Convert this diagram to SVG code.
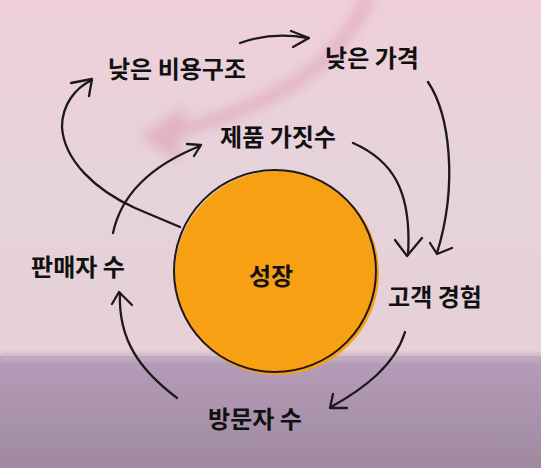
<svg xmlns="http://www.w3.org/2000/svg" width="541" height="468" viewBox="0 0 541 468">
<style>
.lbl{font-family:"Noto Sans CJK KR","Noto Sans",sans-serif;font-weight:700;font-size:24px;fill:#111;text-anchor:middle}
.ln{fill:none;stroke:#1c181c;stroke-width:2.3;stroke-linecap:round;stroke-linejoin:round}
</style>
<defs>
<linearGradient id="bgTop" x1="0" y1="0" x2="0" y2="1">
<stop offset="0" stop-color="#efcfd9"/>
<stop offset="0.5" stop-color="#e6d3dc"/>
<stop offset="1" stop-color="#e7d0d6"/>
</linearGradient>
<linearGradient id="bgBot" x1="0" y1="0" x2="0" y2="1">
<stop offset="0" stop-color="#b69dba"/>
<stop offset="1" stop-color="#9f89a0"/>
</linearGradient>
<filter id="blur" x="-20%" y="-20%" width="140%" height="140%"><feGaussianBlur stdDeviation="6"/></filter>
<filter id="blur2" x="-20%" y="-20%" width="140%" height="140%"><feGaussianBlur stdDeviation="1.5"/></filter>
</defs>
<g id="background">
<rect x="0" y="0" width="541" height="360" fill="url(#bgTop)"/>
<rect x="0" y="356" width="541" height="112" fill="url(#bgBot)"/>
<rect x="0" y="352" width="541" height="10" fill="#c9b2c4" filter="url(#blur2)" opacity="0.6"/>
<g filter="url(#blur)" opacity="0.45">
<path d="M370,-5 C340,60 290,100 180,130" fill="none" stroke="#d98ea4" stroke-width="12"/>
<path d="M140,137 L185,105 L178,162 Z" fill="#d98ea4"/>
</g>
</g>
<g id="connectors">
<path class="ln" d="M240,43 C262,35 285,34 308,38"/>
<path class="ln" d="M291,31 L309,38 L293,47"/>
<path class="ln" d="M428,82 C450,115 458,185 437,253"/>
<path class="ln" d="M430,243 L437,254 L452,248"/>
<path class="ln" d="M353,143 C392,160 412,190 408,255"/>
<path class="ln" d="M395,240 L407,256 L422,238"/>
<path class="ln" d="M113,233 C120,200 145,168 200,146"/>
<path class="ln" d="M187,144 L201,145 L194,156"/>
<path class="ln" d="M180,227 L135,208 C95,190 64,160 62,127 C62,105 75,88 92,80"/>
<path class="ln" d="M71,83 L92,79 L89,96"/>
<path class="ln" d="M405,332 C395,365 365,388 331,407"/>
<path class="ln" d="M333,394 L330,408 L347,408"/>
<path class="ln" d="M177,398 C140,370 118,340 120,293"/>
<path class="ln" d="M112,304 L119,292 L132,305"/>
</g>
<g id="node-growth">
<circle cx="277" cy="273" r="102" fill="#f8a013"/>
<circle cx="275" cy="271" r="101" fill="none" stroke="#1c181c" stroke-width="2"/>
<text class="lbl" x="271" y="285" font-size="27">성장</text>
</g>
<g id="node-lowcost"><text class="lbl" x="177" y="78">낮은 비용구조</text></g>
<g id="node-lowprice"><text class="lbl" x="372" y="67">낮은 가격</text></g>
<g id="node-selection"><text class="lbl" x="278" y="146">제품 가짓수</text></g>
<g id="node-sellers"><text class="lbl" x="78" y="276">판매자 수</text></g>
<g id="node-cx"><text class="lbl" x="435" y="306">고객 경험</text></g>
<g id="node-traffic"><text class="lbl" x="255" y="428">방문자 수</text></g>
</svg>
